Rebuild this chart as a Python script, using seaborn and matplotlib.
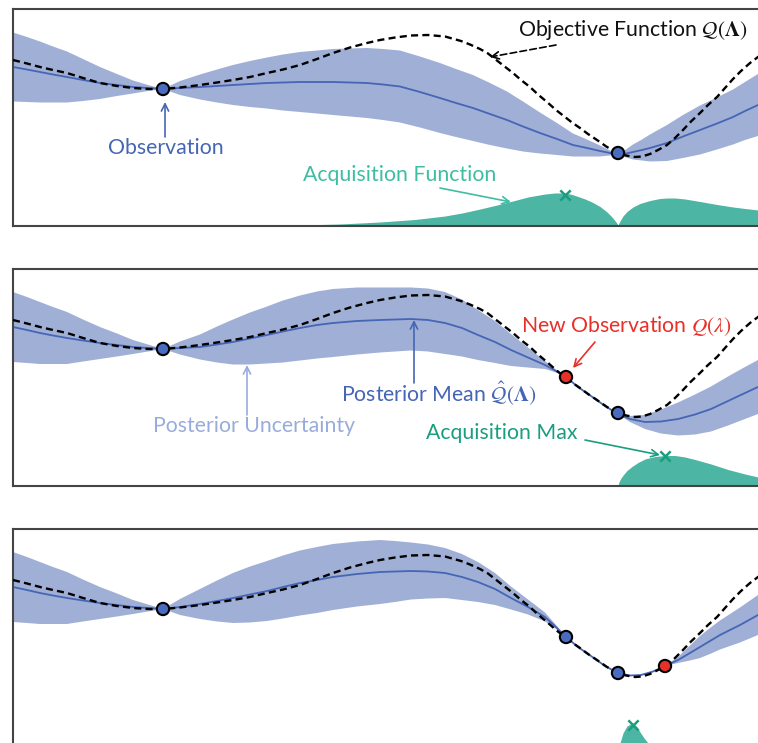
import numpy as np
import pandas as pd
import matplotlib
matplotlib.use("Agg")
import matplotlib.pyplot as plt
import seaborn as sns

# ---------------- data ----------------
# objective function Q(Lambda)
obj_lam = [13, 27, 40, 53, 67, 83, 100, 117, 133, 148, 163, 180, 200, 217, 233, 250, 267, 283, 300, 317,
           333, 350, 367, 380, 395, 411, 428, 445, 461, 470, 480, 488, 495, 504, 513, 521, 530, 538, 547,
           556, 565, 572, 580, 588, 597, 607, 618, 626, 635, 642, 650, 658, 667, 675, 683, 691, 700, 708,
           717, 725, 733, 741, 750, 758, 780]
obj_val = [166, 162.5, 159, 156, 153, 148, 143, 140, 138, 137, 137, 138.5, 141, 143.5, 146, 149, 153, 156.5,
           161, 167, 173, 178.5, 183, 186, 188.5, 190.5, 191, 189.5, 185, 181.5, 177, 172.5, 167, 160, 153,
           146, 139, 131.5, 124, 116, 109, 103.5, 98, 92, 86, 79, 73, 70.5, 69, 69.5, 72, 76, 81, 88, 96,
           104.5, 113, 121, 129, 138, 147, 155, 163, 169, 185]

# observations (lam, value) and the panel in which each first appears
obs_lam = [163, 618, 566, 665]
obs_val = [137, 73, 109, 80]
obs_first_panel = [0, 0, 1, 2]

# panel 1 posterior (mean and half-width of the band)
p1_lam = [13, 27, 40, 53, 67, 83, 100, 117, 133, 148, 163, 180, 200, 217, 233, 250, 267, 283, 300, 317,
          333, 350, 367, 383, 400, 420, 440, 456, 473, 490, 507, 523, 540, 557, 573, 587, 600, 610, 618,
          626, 633, 642, 650, 667, 683, 700, 717, 733, 745, 758, 780]
p1_mean = [159, 156.5, 154, 151.5, 149, 146, 143, 141, 139, 138, 137, 138, 139, 140, 141, 142, 143, 143.5,
           144, 144, 144, 143.5, 143, 141.5, 139.5, 134, 128, 123, 118, 112, 106, 99.5, 93, 87, 81, 78, 75,
           73, 72, 72.5, 74, 76, 78, 83, 89.5, 96, 102.5, 109, 115, 121, 130]
p1_sd = [34.5, 32.5, 30.5, 28, 25.5, 21, 16, 11, 6.5, 3, 0, 7, 12.5, 16.5, 20, 23, 25.5, 28, 30, 31.5,
         33, 34, 35, 35.5, 36, 35.5, 35, 34, 33, 31, 28.5, 25, 20.5, 16, 11.5, 8.5, 5.5, 2.5, 0,
         4, 7.5, 10.5, 13.5, 18, 21.5, 24.5, 26, 27.5, 29, 31, 33.5]

# panel 2 posterior
p2_lam = [13, 27, 40, 53, 67, 83, 100, 117, 133, 148, 163, 180, 200, 217, 233, 250, 267, 283, 300, 317,
          333, 357, 380, 395, 411, 428, 445, 462, 478, 495, 511, 528, 545, 556, 566, 578, 591, 605, 618,
          630, 645, 661, 678, 695, 711, 728, 745, 758, 780]
p2_mean = [159, 156, 153, 150.5, 148, 145.5, 143, 141, 139, 138, 137, 138, 139, 141.5, 144, 147.5, 151,
           154.5, 158, 161, 163, 165, 166, 166.5, 167, 166, 163, 158, 151, 144, 136, 128.5, 121, 115, 109,
           99, 90, 80, 72, 67, 64, 64.5, 67, 71.5, 77, 85, 93, 99, 110]
p2_sd = [35, 33, 31, 28.5, 26, 21, 16, 11.5, 7, 3.5, 0, 6.5, 12.5, 18, 22.5, 26, 28.5, 31, 32.5, 33.5,
         34, 33.5, 32.5, 32, 31.5, 31.5, 31, 28.5, 25, 21, 16, 10, 4, 1.5, 0, 0, 0, 0, 0,
         3, 7, 12, 16.5, 20, 22.5, 24.5, 26, 27, 30]

# panel 3 posterior
p3_lam = [13, 27, 40, 53, 67, 83, 100, 117, 133, 148, 163, 180, 200, 217, 233, 250, 267, 283, 300, 317,
          333, 357, 380, 395, 411, 428, 445, 462, 478, 495, 511, 528, 545, 556, 566, 578, 591, 605, 618,
          630, 641, 653, 665, 678, 690, 700, 710, 720, 740, 758, 780]
p3_mean = [159, 156, 153, 150.5, 148, 145.5, 143, 141, 139, 138, 137, 139, 142, 145, 148, 151.5, 155, 159,
           163, 166, 169, 172, 174, 174.5, 175, 174.5, 173, 169, 164, 157, 148, 139, 129, 119, 109, 99, 90,
           80, 73, 70.5, 71, 74.5, 80, 86, 93, 99, 105, 111, 121, 131, 142]
p3_sd = [35, 33, 31, 28.5, 26, 21, 16, 11.5, 7, 3.5, 0, 8, 15, 20.5, 25, 28, 30, 31.5, 32.5, 33,
         33, 32.5, 32, 30.5, 28.5, 27, 25, 23, 20, 16, 11.5, 7.5, 4.5, 2, 0, 0, 0, 0, 0,
         0, 0, 0, 0, 3, 7.5, 11, 13, 14.5, 17.5, 20, 23]

# acquisition functions
a1_lam = [260, 300, 340, 380, 415, 445, 462, 478, 495, 511, 528, 545, 555, 565, 572, 578, 585, 592, 600,
          607, 612, 616, 618, 620, 623, 627, 633, 640, 650, 660, 667, 675, 685, 700, 717, 733, 745, 758, 780]
a1_val = [0, 1, 2, 4, 6.5, 10, 13, 16.5, 20.5, 24.5, 29, 32, 33, 33, 31.5, 29.5, 27, 24, 19.5,
          14, 9, 4, 1, 5, 10, 14.5, 19, 22.5, 25.5, 27.5, 28, 28, 27, 24.5, 21.5, 19, 17.5, 16, 14]
a2_lam = [618, 619, 621, 624, 627, 632, 638, 645, 655, 665, 675, 685, 695, 711, 728, 745, 758, 780]
a2_val = [0, 4, 8, 12, 15.5, 19.5, 23.5, 27, 29.5, 30.5, 30.5, 29, 26.5, 22, 16.5, 12, 9, 5]
a3_lam = [616, 620, 623, 627, 632, 637, 640, 644, 648, 652]
a3_val = [0, 3, 13, 20, 23, 19, 14, 8, 3, 0]

acq_max_lam = [565, 665, 633]
acq_max_val = [31, 30, 21]

# ---------------- style ----------------
sns.set_theme(style="white")
plt.rcParams["font.family"] = ["Lato", "DejaVu Sans"]
plt.rcParams["mathtext.fontset"] = "stix"

BAND = "#a0afd6"
MEAN = "#4565b5"
OBS_BLUE = "#4a6cc0"
OBS_RED = "#e8302a"
TEAL = "#4cb5a3"
TEAL_DARK = "#1a9e80"
TEAL_LIGHT = "#3dbea3"
UNC = "#98acdc"
SPINE = "#444444"

fig = plt.figure(figsize=(7.58, 7.43), dpi=100)
W, H = 758.0, 743.0
PANEL_H = 217.0
tops = [9, 269, 529]
axes = []
for t in tops:
    bottom = (H - (t + PANEL_H)) / H
    ax = fig.add_axes([13 / W, bottom, 760 / W, PANEL_H / H])
    ax.set_xlim(13, 773)
    ax.set_ylim(0, PANEL_H)
    ax.set_xticks([])
    ax.set_yticks([])
    for s in ax.spines.values():
        s.set_color(SPINE)
        s.set_linewidth(1.5)
    axes.append(ax)

posteriors = [(p1_lam, p1_mean, p1_sd), (p2_lam, p2_mean, p2_sd), (p3_lam, p3_mean, p3_sd)]
acqs = [(a1_lam, a1_val), (a2_lam, a2_val), (a3_lam, a3_val)]
obj_df = pd.DataFrame({"lam": obj_lam, "val": obj_val})

for i, ax in enumerate(axes):
    lam, mean, sd = posteriors[i]
    df = pd.DataFrame({"lam": lam, "mean": mean, "sd": sd})
    ax.fill_between(df["lam"], df["mean"] - df["sd"], df["mean"] + df["sd"],
                    color=BAND, lw=0, zorder=1)
    sns.lineplot(data=df, x="lam", y="mean", ax=ax, color=MEAN, lw=1.3,
                 estimator=None, sort=False, zorder=2)
    sns.lineplot(data=obj_df, x="lam", y="val", ax=ax, color="black", lw=1.7,
                 linestyle=(0, (3.0, 1.8)), estimator=None, sort=False, zorder=3)
    alam, aval = acqs[i]
    ax.fill_between(alam, 0, aval, color=TEAL, lw=0, zorder=1)
    sns.scatterplot(x=[acq_max_lam[i]], y=[acq_max_val[i]], ax=ax, marker="x",
                    s=55, color=TEAL_DARK, linewidth=1.8, zorder=6)
    ox, oy, oc = [], [], []
    for lx, vy, fp in zip(obs_lam, obs_val, obs_first_panel):
        if fp <= i:
            ox.append(lx)
            oy.append(vy)
            oc.append(OBS_RED if (fp == i and i > 0) else OBS_BLUE)
    sns.scatterplot(x=ox, y=oy, ax=ax, s=78, c=oc, edgecolor="black",
                    linewidth=1.5, zorder=7)
    ax.set_xlabel("")
    ax.set_ylabel("")

FS = 15.3
arrow_kw = dict(arrowstyle="->", lw=1.2, shrinkA=0, shrinkB=0, mutation_scale=13)

# ---- panel 1 annotations ----
ax = axes[0]
ax.text(518, 196, r"Objective Function $\mathcal{Q}(\mathbf{\Lambda})$", fontsize=FS,
        color="#111111", ha="left", va="center", zorder=10)
ax.annotate("", xy=(490, 169), xytext=(556, 181),
            arrowprops=dict(color="black", linestyle=(0, (4, 2)), **arrow_kw), zorder=10)
ax.text(166, 78, "Observation", fontsize=FS, color=MEAN, ha="center", va="center")
ax.annotate("", xy=(165, 124), xytext=(165, 89), arrowprops=dict(color=MEAN, **arrow_kw))
ax.text(400, 51, "Acquisition Function", fontsize=FS, color=TEAL_LIGHT, ha="center", va="center")
ax.annotate("", xy=(511, 24), xytext=(440, 38), arrowprops=dict(color=TEAL_LIGHT, **arrow_kw))

# ---- panel 2 annotations ----
ax = axes[1]
ax.text(521, 160, r"New Observation $Q(\lambda)$", fontsize=FS, color=OBS_RED,
        ha="left", va="center", zorder=10)
ax.annotate("", xy=(573, 118), xytext=(595, 144), arrowprops=dict(color=OBS_RED, **arrow_kw))
ax.text(439, 93, r"Posterior Mean $\hat{\mathcal{Q}}(\mathbf{\Lambda})$", fontsize=FS, color=MEAN,
        ha="center", va="center", zorder=10)
ax.annotate("", xy=(414, 166), xytext=(414, 103), arrowprops=dict(color=MEAN, **arrow_kw))
ax.text(254, 60, "Posterior Uncertainty", fontsize=FS, color=UNC, ha="center", va="center")
ax.annotate("", xy=(247, 121), xytext=(247, 71), arrowprops=dict(color=UNC, **arrow_kw))
ax.text(502, 53, "Acquisition Max", fontsize=FS, color=TEAL_DARK, ha="center", va="center")
ax.annotate("", xy=(660, 31), xytext=(585, 46), arrowprops=dict(color=TEAL_DARK, **arrow_kw))

fig.savefig("out.png", dpi=100)
